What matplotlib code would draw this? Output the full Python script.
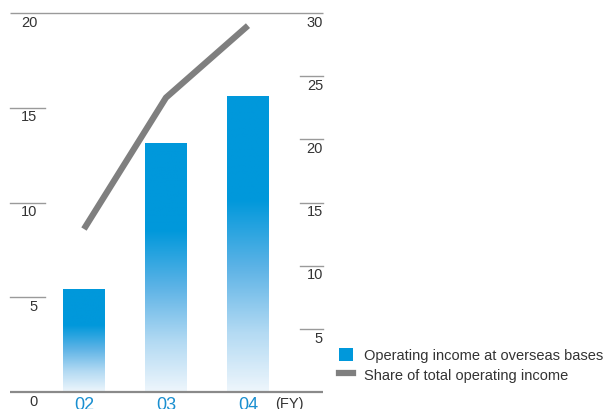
import matplotlib
matplotlib.use("Agg")
import matplotlib.pyplot as plt
import matplotlib.transforms as mtransforms
import numpy as np
from matplotlib.colors import LinearSegmentedColormap
from matplotlib.lines import Line2D
from matplotlib.patches import Patch

# datos
anios = ["02", "03", "04"]
ingreso_ultramar = [5.4, 13.1, 15.6]      # eje izquierdo
participacion = [12.9, 23.3, 29.0]        # eje derecho (%)
ticks_izq = [0, 5, 10, 15, 20]
ticks_der = [5, 10, 15, 20, 25, 30]

AZUL = "#0098db"
GRIS = "#7f7f7f"
TEXTO = "#333333"

plt.rcParams["font.family"] = ["Liberation Sans", "DejaVu Sans"]

fig = plt.figure(figsize=(6.12, 4.10), dpi=100)
ax = fig.add_axes([10 / 612, 17 / 410, 313 / 612, 379 / 410])
ax.set_xlim(-0.902, 2.915)
ax.set_ylim(0, 20)
ax.axis("off")

# barras con degradado (azul arriba -> casi blanco abajo)
cmap = LinearSegmentedColormap.from_list(
    "grad", [(0, "#eef6fc"), (0.2, "#b3daf3"), (0.42, "#5db3e6"),
             (0.65, AZUL), (1, AZUL)])
grad = np.linspace(0, 1, 256).reshape(-1, 1)
x = np.arange(len(anios))
for xi, v in zip(x, ingreso_ultramar):
    ax.imshow(grad, cmap=cmap, origin="lower", aspect="auto",
              extent=(xi - 0.25, xi + 0.25, 0, v), zorder=2)

# línea de participación en eje secundario
ax2 = ax.twinx()
ax2.set_ylim(0, 30)
ax2.axis("off")
ax2.plot(x, participacion, color=GRIS, lw=4.5, solid_capstyle="butt", zorder=3)

# líneas de referencia
ax.hlines(20, -0.902, 2.915, color="#9a9a9a", lw=1, clip_on=False)
ax.hlines(0, -0.902, 2.915, color="#8a8a8a", lw=1.6, clip_on=False, zorder=4)
for t in ticks_izq[1:-1]:
    ax.plot([0, 0.112], [t / 20, t / 20], transform=ax.transAxes,
            color="#9a9a9a", lw=1, clip_on=False)
for t in ticks_der[:-1]:
    ax.plot([0.927, 1], [t / 30, t / 30], transform=ax.transAxes,
            color="#9a9a9a", lw=1, clip_on=False)

# etiquetas de los ejes
for t in ticks_izq:
    ax.text(0.087, t / 20 - 0.023, str(t), transform=ax.transAxes,
            ha="right", va="center", fontsize=10.5, color=TEXTO)
for t in ticks_der:
    ax.text(1.0, t / 30 - 0.023, str(t), transform=ax.transAxes,
            ha="right", va="center", fontsize=10.5, color=TEXTO)
debajo = mtransforms.offset_copy(ax.transData, fig=fig, x=0, y=-4, units="dots")
for xi, a in zip(x, anios):
    ax.text(xi, 0, a, transform=debajo, ha="center", va="top", fontsize=13,
            color="#1a8fd0", clip_on=False)
ax.text(2.33, 0, "(FY)", transform=debajo, ha="left", va="top",
        fontsize=10.5, color=TEXTO)

# leyenda
handles = [Patch(facecolor=AZUL, edgecolor="none"),
           Line2D([0], [0], color=GRIS, lw=4.5)]
fig.legend(handles, ["Operating income at overseas bases",
                     "Share of total operating income"],
           loc="upper left", bbox_to_anchor=(333 / 612, 1 - 343 / 410),
           frameon=False, fontsize=10.5, handlelength=1.0, handleheight=1.0,
           handletextpad=0.7, labelspacing=0.35, labelcolor=TEXTO,
           borderaxespad=0)

fig.savefig("out.png", dpi=100)
